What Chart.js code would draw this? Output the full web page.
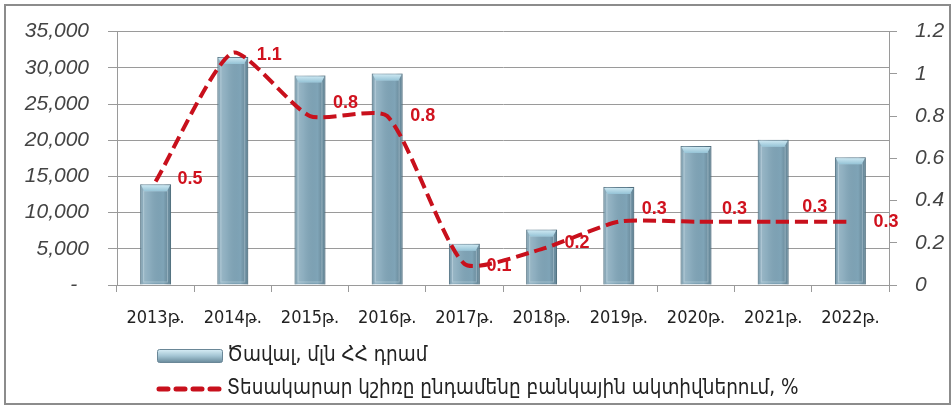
<!DOCTYPE html>
<html><head><meta charset="utf-8">
<script src="https://cdn.jsdelivr.net/npm/chart.js@4.4.0/dist/chart.umd.min.js"></script>
<style>
html,body{margin:0;padding:0;background:#fff;}
#wrap{position:relative;width:952px;height:407px;overflow:hidden;}
#frame{position:absolute;left:4px;top:4px;width:947px;height:401px;border:2px solid #8c8c8c;box-sizing:border-box;pointer-events:none;}
canvas{position:absolute;left:0;top:0;}
</style></head><body>
<div id="wrap"><canvas id="c" width="952" height="407"></canvas><div id="frame"></div></div>
<script>
// ---- data ----
const categories = ['2013թ.', '2014թ.', '2015թ.', '2016թ.', '2017թ.', '2018թ.', '2019թ.', '2020թ.', '2021թ.', '2022թ.'];
const volumeValues = [13900, 31500, 28950, 29200, 5700, 7650, 13550, 19200, 20050, 17650];
const shareValues = [0.49, 1.1, 0.8, 0.8, 0.1, 0.17, 0.3, 0.3, 0.3, 0.3];
const seriesNames = ['Ծավալ, մլն ՀՀ դրամ', 'Տեսակարար կշիռը ընդամենը բանկային ակտիվներում, %'];
const leftAxisMax = 35000, leftAxisStep = 5000;
const rightAxisMax = 1.2, rightAxisStep = 0.2;

// ---- layout/style (not data) ----
const labelOffsets = [[22,-2],[24,2],[23,-13],[23,0],[22,2],[23,-6],[23,-13],[26,-13],[29,-15],[23,0]];
const GRID = '#9a9a9a';
const LINE_RED = '#c8101c';

const barDecor = {
  id: 'barDecor',
  afterDatasetDraw(chart, args) {
    if (args.index !== 0) return;
    const ctx = chart.ctx;
    args.meta.data.forEach(el => {
      const {x, y, base, width} = el.getProps(['x','y','base','width'], true);
      const l = x - width/2, r = x + width/2;
      ctx.save();
      const g = ctx.createLinearGradient(l, 0, r, 0);
      g.addColorStop(0, 'rgba(60,90,105,0.3)');
      g.addColorStop(0.12, 'rgba(255,255,255,0.2)');
      g.addColorStop(0.3, 'rgba(255,255,255,0.1)');
      g.addColorStop(0.75, 'rgba(0,0,0,0)');
      g.addColorStop(1, 'rgba(40,70,85,0.3)');
      ctx.fillStyle = g;
      ctx.fillRect(l, y, width, base - y);
      ctx.strokeStyle = 'rgba(225,240,248,0.35)';
      ctx.lineWidth = 1;
      ctx.strokeRect(l + 3.5, y + 6.5, width - 7, base - y - 9);
      const cap = Math.min(7, (base - y) / 2);
      const cg = ctx.createLinearGradient(0, y, 0, y + cap);
      cg.addColorStop(0, '#d3ecf5');
      cg.addColorStop(1, '#95c3d6');
      ctx.fillStyle = cg;
      ctx.beginPath();
      ctx.moveTo(l + 1, y + 1);
      ctx.lineTo(r - 1, y + 1);
      ctx.lineTo(r - 4, y + cap);
      ctx.lineTo(l + 4, y + cap);
      ctx.closePath();
      ctx.fill();
      ctx.restore();
    });
  }
};

const valueLabels = {
  id: 'valueLabels',
  afterDatasetsDraw(chart) {
    const meta = chart.getDatasetMeta(1);
    const ctx = chart.ctx;
    ctx.save();
    ctx.font = 'bold 18px "Liberation Sans", Arial, sans-serif';
    ctx.fillStyle = '#d0121e';
    ctx.textAlign = 'left';
    ctx.textBaseline = 'middle';
    meta.data.forEach((pt, i) => {
      const v = chart.data.datasets[1].data[i];
      const [dx, dy] = labelOffsets[i];
      ctx.fillText(v.toFixed(1), pt.x + dx, pt.y + dy);
    });
    ctx.restore();
  }
};

const customLegend = {
  id: 'customLegend',
  afterDraw(chart) {
    const ctx = chart.ctx;
    const ds = chart.data.datasets;
    ctx.save();
    const ix = 157, iw = 65;
    let y = 356;
    const g = ctx.createLinearGradient(0, y - 6, 0, y + 6);
    g.addColorStop(0, '#d3eaf3');
    g.addColorStop(0.5, '#a3c4d3');
    g.addColorStop(1, '#6e8fa0');
    ctx.fillStyle = g;
    ctx.strokeStyle = '#6a8797';
    ctx.lineWidth = 1;
    ctx.beginPath();
    ctx.roundRect(ix + 0.5, y - 6.5, iw, 13, 2);
    ctx.fill(); ctx.stroke();
    ctx.font = '20.5px "DejaVu Sans Condensed", "DejaVu Sans", sans-serif';
    ctx.fillStyle = '#222';
    ctx.textAlign = 'left';
    ctx.textBaseline = 'middle';
    ctx.fillText(ds[0].label, 227, y);
    y = 389;
    ctx.strokeStyle = LINE_RED;
    ctx.lineWidth = 5;
    ctx.lineCap = 'round';
    ctx.setLineDash([9, 8]);
    ctx.beginPath();
    ctx.moveTo(159, y); ctx.lineTo(220, y);
    ctx.stroke();
    ctx.setLineDash([]);
    ctx.fillText(ds[1].label, 227, y);
    ctx.restore();
  }
};

new Chart(document.getElementById('c'), {
  type: 'bar',
  data: {
    labels: categories,
    datasets: [
      {
        type: 'bar', label: seriesNames[0], data: volumeValues, yAxisID: 'y', order: 2,
        backgroundColor: '#7fa4b7', borderColor: '#5f7f90', borderWidth: 1,
        barPercentage: 0.8, categoryPercentage: 0.5
      },
      {
        type: 'line', label: seriesNames[1], data: shareValues, yAxisID: 'y1', order: 1,
        borderColor: LINE_RED, borderWidth: 4, borderDash: [13, 6], pointRadius: 0,
        tension: 0.2, fill: false
      }
    ]
  },
  options: {
    responsive: false,
    animation: false,
    devicePixelRatio: 1,
    layout: { padding: { top: 26, left: 0, right: 0, bottom: 0 } },
    plugins: { legend: { display: false }, tooltip: { enabled: false } },
    scales: {
      x: {
        offset: true,
        grid: { display: true, drawOnChartArea: false, offset: true, tickLength: 7, color: GRID },
        border: { display: true, color: GRID },
        ticks: { font: { family: '"DejaVu Sans Condensed", "DejaVu Sans", sans-serif', size: 18 }, color: '#222', padding: 16, maxRotation: 0, autoSkip: false },
        afterFit(s) { s.height = 122; }
      },
      y: {
        position: 'left', min: 0, max: leftAxisMax,
        ticks: { stepSize: leftAxisStep, padding: 19, color: '#444',
          font: { family: '"Liberation Sans", Arial, sans-serif', size: 21, style: 'italic' },
          callback: v => v === 0 ? '-  ' : v.toLocaleString('en-US') },
        grid: { color: GRID, tickLength: 9 },
        border: { display: true, color: GRID },
        afterFit(s) { s.width = 117; }
      },
      y1: {
        position: 'right', min: 0, max: rightAxisMax,
        ticks: { stepSize: rightAxisStep, padding: 18, color: '#444',
          font: { family: '"Liberation Sans", Arial, sans-serif', size: 21, style: 'italic' },
          callback: v => String(+v.toFixed(1)) },
        grid: { drawOnChartArea: false, color: GRID, tickLength: 8 },
        border: { display: true, color: GRID },
        afterFit(s) { s.width = 63; }
      }
    }
  },
  plugins: [barDecor, valueLabels, customLegend]
});
</script>
</body></html>
